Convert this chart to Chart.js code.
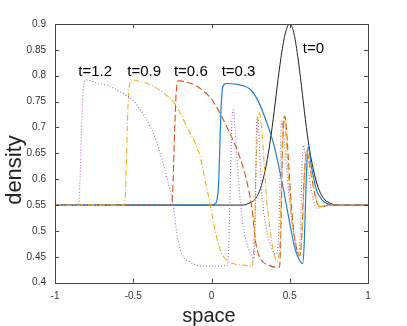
<!DOCTYPE html>
<html>
<head>
<meta charset="utf-8">
<script src="https://cdn.jsdelivr.net/npm/chart.js@4.4.0/dist/chart.umd.min.js"></script>
<style>
  html, body { margin: 0; padding: 0; background: #fff; }
  canvas { display: block; }
</style>
</head>
<body>
<canvas id="density_canvas" width="407" height="326"></canvas>
<script>
// density profiles [space, density]
const t0 = [[-1, 0.55], [0.2, 0.55], [0.25, 0.555], [0.275, 0.56], [0.3, 0.572], [0.325, 0.594],
  [0.35, 0.628], [0.375, 0.673], [0.4, 0.73], [0.425, 0.792], [0.45, 0.847], [0.475, 0.886],
  [0.5, 0.9], [0.525, 0.884], [0.55, 0.84], [0.575, 0.78], [0.6, 0.715], [0.625, 0.66],
  [0.65, 0.62], [0.675, 0.59], [0.7, 0.571], [0.725, 0.56], [0.75, 0.555], [0.8, 0.55], [1, 0.55]];

const t03 = [[-1, 0.55], [0.0, 0.55], [0.02, 0.552], [0.035, 0.56], [0.045, 0.59], [0.052, 0.65],
  [0.06, 0.73], [0.068, 0.77], [0.08, 0.783], [0.1, 0.785], [0.15, 0.784], [0.2, 0.781],
  [0.25, 0.773], [0.3, 0.75], [0.35, 0.712], [0.4, 0.665], [0.45, 0.595], [0.5, 0.515],
  [0.53, 0.47], [0.56, 0.445], [0.583, 0.437], [0.593, 0.48], [0.603, 0.58], [0.612, 0.645],
  [0.62, 0.662], [0.635, 0.63], [0.65, 0.607], [0.67, 0.58], [0.69, 0.567], [0.72, 0.556],
  [0.76, 0.551], [0.8, 0.55], [1, 0.55]];

const t06 = [[-1, 0.55], [-0.255, 0.55], [-0.245, 0.6], [-0.235, 0.7], [-0.225, 0.77], [-0.212, 0.79],
  [-0.2, 0.79], [-0.15, 0.787], [-0.1, 0.781], [-0.05, 0.77], [0, 0.755], [0.05, 0.73],
  [0.1, 0.7], [0.15, 0.667], [0.2, 0.625], [0.23, 0.59], [0.26, 0.54], [0.28, 0.483],
  [0.3, 0.455], [0.33, 0.44], [0.37, 0.433], [0.41, 0.43], [0.435, 0.43], [0.443, 0.5],
  [0.452, 0.64], [0.46, 0.71], [0.468, 0.722], [0.478, 0.7], [0.49, 0.645], [0.51, 0.55],
  [0.535, 0.48], [0.565, 0.452], [0.578, 0.5], [0.59, 0.59], [0.6, 0.64], [0.608, 0.655],
  [0.625, 0.63], [0.645, 0.595], [0.67, 0.558], [0.693, 0.547], [0.72, 0.548], [0.76, 0.55], [1, 0.55]];

const t09 = [[-1, 0.55], [-0.555, 0.55], [-0.545, 0.62], [-0.535, 0.73], [-0.525, 0.78], [-0.51, 0.792],
  [-0.45, 0.788], [-0.393, 0.783], [-0.35, 0.776], [-0.3, 0.765], [-0.244, 0.75], [-0.2, 0.728],
  [-0.15, 0.696], [-0.105, 0.67], [-0.07, 0.64], [-0.042, 0.6], [-0.01, 0.553], [0.022, 0.502],
  [0.065, 0.457], [0.13, 0.438], [0.2, 0.434], [0.26, 0.432], [0.272, 0.48], [0.284, 0.62],
  [0.295, 0.71], [0.305, 0.73], [0.315, 0.715], [0.33, 0.66], [0.35, 0.57], [0.375, 0.5],
  [0.4, 0.455], [0.418, 0.442], [0.435, 0.46], [0.445, 0.57], [0.453, 0.68], [0.462, 0.718],
  [0.472, 0.7], [0.485, 0.64], [0.505, 0.55], [0.53, 0.485], [0.562, 0.452], [0.578, 0.49],
  [0.59, 0.58], [0.6, 0.635], [0.608, 0.655], [0.625, 0.635], [0.645, 0.6], [0.67, 0.562],
  [0.693, 0.547], [0.72, 0.547], [0.76, 0.55], [1, 0.55]];

const t12 = [[-1, 0.55], [-0.851, 0.55], [-0.84, 0.6], [-0.83, 0.7], [-0.82, 0.77], [-0.81, 0.79],
  [-0.797, 0.792], [-0.75, 0.788], [-0.7, 0.784], [-0.649, 0.779], [-0.6, 0.772], [-0.55, 0.763],
  [-0.5, 0.752], [-0.45, 0.732], [-0.393, 0.702], [-0.35, 0.672], [-0.329, 0.65], [-0.3, 0.62],
  [-0.27, 0.585], [-0.244, 0.55], [-0.222, 0.496], [-0.2, 0.465], [-0.18, 0.45], [-0.14, 0.44],
  [-0.095, 0.434], [-0.05, 0.432], [0, 0.432], [0.05, 0.432], [0.086, 0.433], [0.1, 0.433],
  [0.11, 0.47], [0.122, 0.62], [0.132, 0.72], [0.14, 0.734], [0.15, 0.7], [0.162, 0.644],
  [0.18, 0.57], [0.2, 0.515], [0.22, 0.482], [0.25, 0.455], [0.27, 0.446], [0.28, 0.52],
  [0.286, 0.68], [0.292, 0.72], [0.3, 0.7], [0.32, 0.58], [0.353, 0.502], [0.38, 0.47],
  [0.41, 0.455], [0.425, 0.47], [0.435, 0.56], [0.442, 0.68], [0.448, 0.712], [0.46, 0.69],
  [0.48, 0.62], [0.5, 0.55], [0.534, 0.483], [0.555, 0.457], [0.568, 0.5], [0.578, 0.62],
  [0.587, 0.666], [0.6, 0.645], [0.619, 0.612], [0.651, 0.56], [0.672, 0.544], [0.7, 0.546],
  [0.73, 0.55], [1, 0.55]];

const xTicks = [-1, -0.5, 0, 0.5, 1];
const yTicks = [0.4, 0.45, 0.5, 0.55, 0.6, 0.65, 0.7, 0.75, 0.8, 0.85, 0.9];

const labelText = ['t=1.2', 't=0.9', 't=0.6', 't=0.3', 't=0'];
const labelX = [-0.851, -0.538, -0.24, 0.065, 0.583];
const labelY = [0.7986, 0.7986, 0.7986, 0.7986, 0.844];

const FONT = "'Liberation Sans', Arial, Helvetica, sans-serif";

function line(points, color, dash, width) {
  return {
    data: points.map(p => ({x: p[0], y: p[1]})),
    borderColor: color,
    borderWidth: width,
    borderDash: dash,
    pointRadius: 0,
    fill: false,
    cubicInterpolationMode: 'monotone'
  };
}

// frame with inward ticks, curve labels and axis titles
const framePlugin = {
  id: 'frame',
  afterDraw(chart) {
    const ctx = chart.ctx;
    const a = chart.chartArea;
    const x = chart.scales.x, y = chart.scales.y;
    ctx.save();
    ctx.strokeStyle = '#444';
    ctx.lineWidth = 1;
    ctx.setLineDash([]);
    ctx.strokeRect(Math.round(a.left) + 0.5, Math.round(a.top) + 0.5,
      Math.round(a.right - a.left), Math.round(a.bottom - a.top));
    ctx.beginPath();
    xTicks.forEach(v => {
      const px = Math.round(x.getPixelForValue(v)) + 0.5;
      ctx.moveTo(px, a.bottom); ctx.lineTo(px, a.bottom - 4);
      ctx.moveTo(px, a.top); ctx.lineTo(px, a.top + 4);
    });
    yTicks.forEach(v => {
      const py = Math.round(y.getPixelForValue(v)) + 0.5;
      ctx.moveTo(a.left, py); ctx.lineTo(a.left + 4, py);
      ctx.moveTo(a.right, py); ctx.lineTo(a.right - 4, py);
    });
    ctx.stroke();

    ctx.fillStyle = '#000';
    ctx.font = '15px ' + FONT;
    ctx.textAlign = 'left';
    ctx.textBaseline = 'alphabetic';
    labelText.forEach((t, i) => {
      ctx.fillText(t, x.getPixelForValue(labelX[i]), y.getPixelForValue(labelY[i]));
    });

    ctx.fillStyle = '#222';
    ctx.textAlign = 'center';
    ctx.font = '20px ' + FONT;
    ctx.fillText('space', 209, 322);
    ctx.translate(21, 170);
    ctx.rotate(-Math.PI / 2);
    ctx.font = '22px ' + FONT;
    ctx.fillText('density', 0, 0);
    ctx.restore();
  }
};

new Chart(document.getElementById('density_canvas'), {
  type: 'line',
  data: {
    datasets: [
      line(t12, '#a56cc0', [1, 2], 1.1),
      line(t09, '#edb120', [6, 2, 1, 2], 1.1),
      line(t06, '#d95319', [7, 3], 1.1),
      line(t03, '#1f80c8', [], 1.2),
      line(t0, '#222222', [], 1)
    ]
  },
  options: {
    responsive: false,
    animation: false,
    events: [],
    layout: { padding: { left: 0, top: 24, right: 39, bottom: 0 } },
    plugins: { legend: { display: false }, tooltip: { enabled: false } },
    scales: {
      x: {
        type: 'linear', min: -1, max: 1,
        grid: { display: false, drawTicks: false }, border: { display: false },
        afterBuildTicks: s => { s.ticks = xTicks.map(v => ({value: v})); },
        afterFit: s => { s.height = 43.3; },
        ticks: { padding: 8, color: '#333', font: { size: 10, family: FONT },
          callback: v => String(+v.toFixed(2)) }
      },
      y: {
        type: 'linear', min: 0.4, max: 0.9,
        grid: { display: false, drawTicks: false }, border: { display: false },
        afterBuildTicks: s => { s.ticks = yTicks.map(v => ({value: v})); },
        afterFit: s => { s.width = 55; },
        ticks: { padding: 9, color: '#333', font: { size: 10, family: FONT },
          callback: v => String(+v.toFixed(2)) }
      }
    }
  },
  plugins: [framePlugin]
});
</script>
</body>
</html>
